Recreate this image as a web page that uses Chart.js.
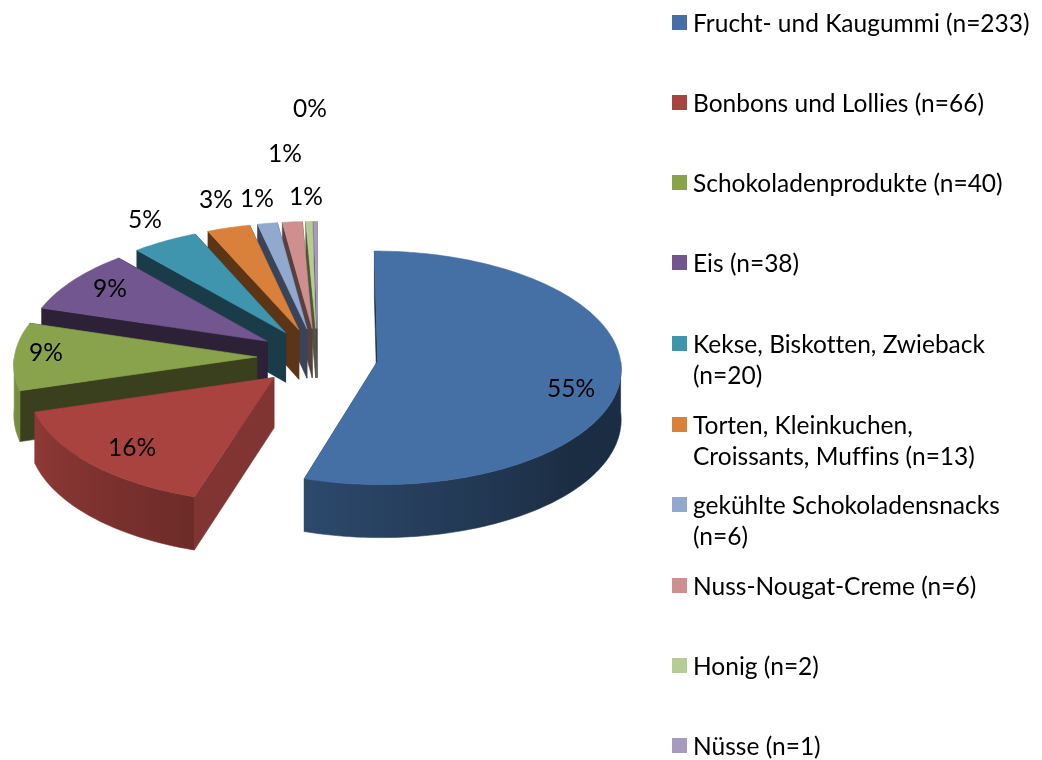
<!DOCTYPE html>
<html>
<head>
<meta charset="utf-8">
<style>
  html, body { margin: 0; background: #fff; }
  canvas { display: block; }
</style>
<script src="https://cdn.jsdelivr.net/npm/chart.js@4"></script>
</head>
<body>
<canvas id="myChart" width="1042" height="760"></canvas>
<script>
// data
const categories = [
    'Frucht- und Kaugummi (n=233)',
    'Bonbons und Lollies (n=66)',
    'Schokoladenprodukte (n=40)',
    'Eis (n=38)',
    ['Kekse, Biskotten, Zwieback', '(n=20)'],
    ['Torten, Kleinkuchen,', 'Croissants, Muffins (n=13)'],
    ['gekühlte Schokoladensnacks', '(n=6)'],
    'Nuss-Nougat-Creme (n=6)',
    'Honig (n=2)',
    'Nüsse (n=1)'
];
const counts = [233, 66, 40, 38, 20, 13, 6, 6, 2, 1];
const percentLabels = ['55%', '16%', '9%', '9%', '5%', '3%', '1%', '1%', '1%', '0%'];

// styling
const topColors = ['#4470a6', '#a8433f', '#88a34c', '#71568f', '#4095ae', '#d9813b', '#92a9cf', '#cf8f8e', '#b7cc94', '#a89abd'];
const cutColors = ['#1a2c44', '#803533', '#3a401d', '#2c2137', '#193c48', '#5b3516', '#39445a', '#5a3f3f', '#4b5a36', '#46405a'];
const labelPos = [[571, 389], [132, 448], [46, 353], [110, 289], [145, 220], [216, 200], [257, 199], [306, 197], [285, 154], [310, 109]];
const legendY = [24, 104, 184, 264, 345, 426, 506, 587, 667, 747];
const lineGap = 31;
const font = '24.5px Lato';

const explode = 0.25;     // slice moved out, in radii
const tilt = 0.478;       // squash of the pie plane
const persp = 0.055;      // near edge bigger than far edge
const depth = 50;         // wall height in px

const project = (arc, x, y, down) => {
    let w = 1 - persp * y;
    return [
        arc.x + arc.outerRadius * x / w,
        arc.y + (arc.outerRadius * tilt * y + (down ? depth : 0)) / w
    ];
}

// walls get darker towards the right hand side of the pie
const wallShade = (angle) => {
    let deg = ((angle + Math.PI / 2) * 180 / Math.PI) % 360;
    if (deg < 130) return 0.4;
    return Math.min(0.92, 0.4 + (deg - 130) * 0.0037);
}

const shade = (hex, f) => {
    let n = parseInt(hex.slice(1), 16);
    let r = Math.round((n >> 16) * f), g = Math.round(((n >> 8) & 255) * f), b = Math.round((n & 255) * f);
    return 'rgb(' + r + ',' + g + ',' + b + ')';
}

const poly = (ctx, pts, color) => {
    ctx.beginPath();
    pts.forEach((p, i) => i ? ctx.lineTo(p[0], p[1]) : ctx.moveTo(p[0], p[1]));
    ctx.closePath();
    ctx.fillStyle = color;
    ctx.strokeStyle = color;
    ctx.lineWidth = 0.6;
    ctx.fill();
    ctx.stroke();
}

const drawSlice = (ctx, arc, i) => {
    let mid = (arc.startAngle + arc.endAngle) / 2;
    let ox = explode * Math.cos(mid), oy = explode * Math.sin(mid);
    let rim = (a) => [ox + Math.cos(a), oy + Math.sin(a)];
    let steps = Math.max(2, Math.ceil((arc.endAngle - arc.startAngle) * 50));
    let angles = [];
    for (let s = 0; s <= steps; s++) {
        angles.push(arc.startAngle + (arc.endAngle - arc.startAngle) * s / steps);
    }

    // the two cut faces
    [arc.startAngle, arc.endAngle].forEach((a) => {
        let [x, y] = rim(a);
        poly(ctx, [project(arc, ox, oy), project(arc, x, y), project(arc, x, y, true), project(arc, ox, oy, true)], cutColors[i]);
    });

    // outer wall, only the part that faces the viewer
    let front = angles.filter((a) => Math.sin(a) > 0);
    if (front.length > 1) {
        let upper = front.map((a) => project(arc, ...rim(a)));
        let lower = front.map((a) => project(arc, ...rim(a), true));
        let x0 = upper[0][0], x1 = upper[upper.length - 1][0];
        let grad = ctx.createLinearGradient(x0, 0, x1, 0);
        front.forEach((a, n) => {
            let t = (upper[n][0] - x0) / (x1 - x0);
            grad.addColorStop(Math.min(1, Math.max(0, t)), shade(topColors[i], wallShade(a)));
        });
        poly(ctx, upper.concat(lower.reverse()), grad);
    }

    // top face
    let top = [project(arc, ox, oy)];
    angles.forEach((a) => top.push(project(arc, ...rim(a))));
    poly(ctx, top, arc.options.backgroundColor);
}

const pie3d = {
    id: 'pie3d',
    beforeDatasetsDraw(chart) {
        let arcs = chart.getDatasetMeta(0).data;
        for (let i = arcs.length - 1; i >= 0; i--) {
            drawSlice(chart.ctx, arcs[i], i);
        }
        return false;
    },
    afterDraw(chart) {
        let ctx = chart.ctx;
        ctx.save();
        ctx.font = font;
        ctx.letterSpacing = '0.01px';  // keeps Lato from joining tt and ff
        ctx.fillStyle = '#000';
        ctx.textBaseline = 'middle';

        ctx.textAlign = 'center';
        percentLabels.forEach((t, i) => ctx.fillText(t, labelPos[i][0], labelPos[i][1]));

        ctx.textAlign = 'left';
        categories.forEach((c, i) => {
            ctx.fillStyle = topColors[i];
            ctx.fillRect(672, legendY[i] - 9, 15, 15);
            ctx.fillStyle = '#000';
            [].concat(c).forEach((line, n) => ctx.fillText(line, 693, legendY[i] + n * lineGap));
        });
        ctx.restore();
    }
};

new Chart(document.getElementById('myChart').getContext('2d'), {
    type: 'pie',
    data: {
        labels: categories.map((c) => [].concat(c).join(' ')),
        datasets: [{
            data: counts,
            backgroundColor: topColors,
            borderWidth: 0
        }]
    },
    options: {
        responsive: false,
        animation: false,
        radius: 242.5,
        layout: { padding: { left: 2, right: 409, bottom: 46 } },
        plugins: { legend: { display: false }, tooltip: { enabled: false } }
    },
    plugins: [pie3d]
});
</script>
</body>
</html>
